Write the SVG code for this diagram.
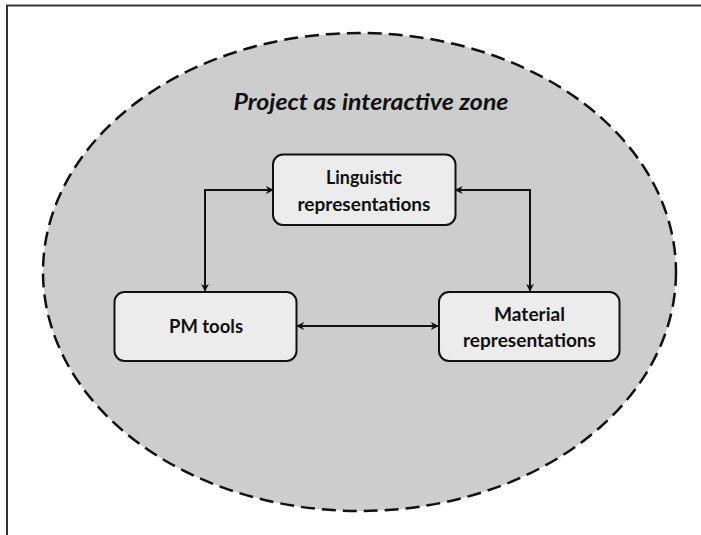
<svg xmlns="http://www.w3.org/2000/svg" width="701" height="535" viewBox="0 0 701 535">
<style>
.node rect{fill:#ececec;stroke:#111;stroke-width:2}
.lbl{font-family:Lato,"Liberation Sans",sans-serif;font-weight:bold;font-size:18px;fill:#111;text-anchor:middle}
.conn path{fill:none;stroke:#111;stroke-width:2}
</style>
<defs>
<marker id="ah" viewBox="0 0 10 10" refX="9" refY="5" markerWidth="8" markerHeight="8" markerUnits="userSpaceOnUse" orient="auto-start-reverse">
<path d="M0,0 L10,5 L0,10 L3,5 z" fill="#111"/>
</marker>
</defs>
<rect x="0" y="0" width="701" height="535" fill="#fff"/>
<path d="M7,535 V5.5 H701" fill="none" stroke="#333" stroke-width="2"/>
<g id="zone">
<ellipse cx="359.5" cy="272" rx="316.5" ry="239" fill="#cdcdcd" stroke="#111" stroke-width="2.5" stroke-dasharray="14 7"/>
<text x="371" y="110" font-family="Lato,'Liberation Sans',sans-serif" font-weight="bold" font-style="italic" font-size="22" fill="#111" text-anchor="middle" textLength="275" lengthAdjust="spacingAndGlyphs">Project as interactive zone</text>
</g>
<g class="conn" id="connectors">
<path d="M273,190 H205 V291" marker-start="url(#ah)" marker-end="url(#ah)"/>
<path d="M455.5,190 H530 V291" marker-start="url(#ah)" marker-end="url(#ah)"/>
<path d="M297,326 H438" marker-start="url(#ah)" marker-end="url(#ah)"/>
</g>
<g class="node" id="linguistic">
<rect x="273" y="154.5" width="182.5" height="70.5" rx="10"/>
<text class="lbl" x="364" y="184" textLength="76" lengthAdjust="spacingAndGlyphs">Linguistic</text>
<text class="lbl" x="364" y="211" textLength="133" lengthAdjust="spacingAndGlyphs">representations</text>
</g>
<g class="node" id="pmtools">
<rect x="114.5" y="292" width="182" height="69" rx="10"/>
<text class="lbl" x="206" y="333" textLength="74" lengthAdjust="spacingAndGlyphs">PM tools</text>
</g>
<g class="node" id="material">
<rect x="439" y="292" width="180.5" height="69" rx="10"/>
<text class="lbl" x="529.5" y="321" textLength="71" lengthAdjust="spacingAndGlyphs">Material</text>
<text class="lbl" x="529.5" y="347" textLength="133" lengthAdjust="spacingAndGlyphs">representations</text>
</g>
</svg>
